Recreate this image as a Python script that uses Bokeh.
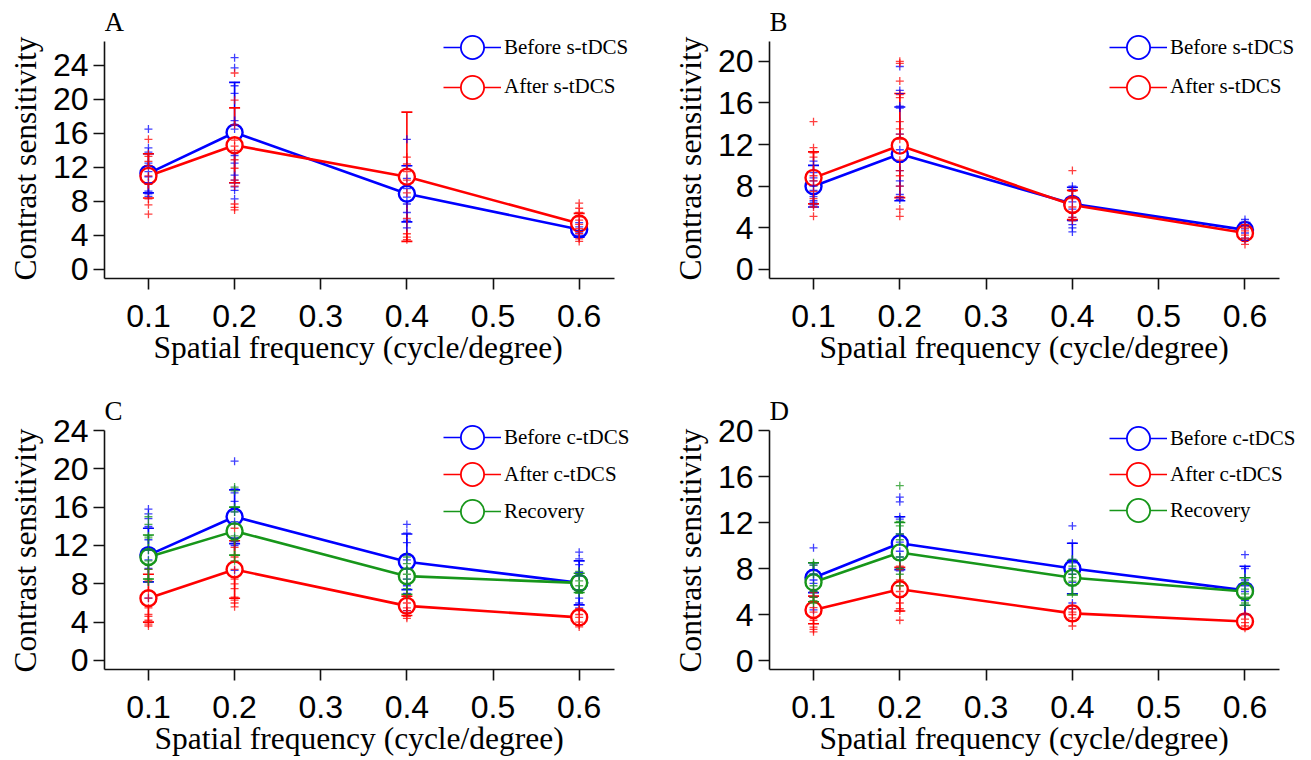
from bokeh.plotting import figure
from bokeh.layouts import column, row
from bokeh.models import (ColumnDataSource, Whisker, TeeHead, Legend, LegendItem,
                          Label, Range1d, FixedTicker, Title)
from bokeh.embed import file_html
from bokeh.resources import INLINE

NAN = float("nan")

# ---------------- data ----------------
freq = [0.1, 0.2, 0.4, 0.6]
x_ticks = [0.1, 0.2, 0.3, 0.4, 0.5, 0.6]

# Panel A (s-tDCS)
A_before_mean = [11.3, 16.1, 8.9, 4.7]
A_before_sd = [2.3, 5.9, 3.3, 0.9]
A_after_mean = [11.0, 14.6, 10.9, 5.4]
A_after_sd = [2.6, 4.4, 7.6, 1.2]
A_before_pts = [[16.5, 14.3, 13.8, 12.5, 11.5, 10.9, 10.2, 9.2, 8.9, 8.6],
                [24.9, 23.7, 21.6, 20.7, 17.5, 16.5, 13.4, 12.5, 11.1, 10.5, 9.7, 9.3, 8.3],
                [15.3, 12.2, 10.7, 9.5, 8.5, 7.7, 6.7, 5.8, 4.9],
                [5.5, 5.0, 4.6, 4.3, 4.0, 3.8]]
A_after_pts = [[15.3, 13.6, 13.3, 12.7, 12.2, 11.0, 10.0, 8.3, 7.6, 6.5],
               [23.1, 19.9, 17.0, 15.2, 14.5, 14.0, 12.9, 11.9, 10.5, 9.8, 7.7, 7.3, 7.0],
               [13.2, 12.4, 11.5, 10.5, 9.0, 6.0, 4.2, 3.8, 3.5],
               [7.8, 7.2, 6.7, 6.2, 5.8, 5.3, 4.8, 4.2, 3.6, 3.3]]
A_yticks = [0, 4, 8, 12, 16, 20, 24]

# Panel B (s-tDCS)
B_before_mean = [8.0, 11.1, 6.3, 3.8]
B_before_sd = [2.0, 4.5, 1.6, 0.7]
B_after_mean = [8.8, 11.9, 6.2, 3.5]
B_after_sd = [2.5, 5.0, 1.4, 0.6]
B_before_pts = [[10.4, 9.3, 8.8, 8.5, 8.0, 7.6, 7.0, 6.6, 6.4, 6.2],
                [19.5, 17.2, 16.9, 15.7, 15.5, 13.0, 11.5, 9.5, 8.5, 8.0, 7.2, 6.9, 6.7],
                [8.0, 7.7, 7.0, 6.5, 5.8, 5.0, 4.7, 4.3, 4.0, 3.6],
                [4.8, 4.5, 4.2, 3.9, 3.5, 3.0, 2.8]]
B_after_pts = [[14.2, 11.7, 11.2, 10.8, 9.5, 9.0, 8.5, 7.5, 6.8, 6.3, 6.0, 5.1],
               [20.0, 19.8, 18.1, 16.8, 16.5, 14.2, 13.5, 13.0, 12.5, 10.5, 9.5, 9.0, 8.0, 7.0, 5.8, 5.1],
               [9.5, 7.5, 7.0, 6.8, 6.0, 5.5, 5.0, 4.7],
               [4.3, 4.0, 3.7, 3.3, 3.0, 2.4]]
B_yticks = [0, 4, 8, 12, 16, 20]

# Panel C (c-tDCS)
C_before_mean = [11.0, 15.0, 10.3, 8.1]
C_before_sd = [2.8, 2.8, 2.9, 2.3]
C_after_mean = [6.5, 9.5, 5.7, 4.5]
C_after_sd = [2.5, 3.0, 1.0, 0.7]
C_recovery_mean = [10.8, 13.5, 8.8, 8.1]
C_recovery_sd = [2.3, 2.5, 1.9, 1.0]
C_before_pts = [[15.8, 15.3, 14.8, 14.0, 13.8, 12.6, 11.5, 10.5, 9.6, 8.2, 6.5],
                [20.8, 17.9, 17.5, 16.6, 15.5, 14.5, 12.8, 12.4, 12.0, 9.4],
                [14.2, 13.3, 12.3, 11.0, 10.5, 9.5, 8.5, 7.8, 7.0, 5.2],
                [11.3, 10.6, 10.0, 9.2, 8.8, 7.4, 6.5, 6.0, 5.5]]
C_after_pts = [[9.5, 8.3, 7.3, 6.5, 5.5, 4.8, 4.6, 4.2, 3.8, 3.6],
               [13.8, 12.5, 11.8, 10.8, 9.5, 8.5, 8.0, 7.5, 6.6, 6.3, 6.0, 5.6],
               [6.8, 6.5, 6.0, 5.5, 5.2, 5.0, 4.6, 4.4],
               [5.4, 5.2, 4.8, 4.5, 4.0, 3.7, 3.5]]
C_recovery_pts = [[15.0, 14.2, 13.0, 12.8, 11.5, 10.4, 10.0, 9.5, 8.5, 8.2],
                  [18.1, 17.7, 16.0, 15.5, 14.2, 13.0, 12.5, 11.0, 10.4],
                  [10.8, 10.1, 9.5, 9.0, 8.5, 8.0, 7.5, 6.9],
                  [9.3, 8.8, 8.3, 7.8, 7.4, 7.0]]
C_yticks = [0, 4, 8, 12, 16, 20, 24]

# Panel D (c-tDCS)
D_before_mean = [7.2, 10.2, 8.0, 6.1]
D_before_sd = [1.3, 2.3, 2.2, 2.1]
D_after_mean = [4.4, 6.2, 4.1, 3.4]
D_after_sd = [1.2, 1.9, 0.6, 0.5]
D_recovery_mean = [6.8, 9.4, 7.2, 6.0]
D_recovery_sd = [1.7, 2.6, 1.5, 1.2]
D_before_pts = [[9.8, 8.3, 7.9, 7.5, 7.0, 6.7, 6.0, 5.5, 4.4],
                [14.2, 13.8, 12.5, 12.3, 11.0, 10.3, 9.5, 9.0, 8.0, 7.8],
                [11.7, 10.2, 8.8, 8.5, 8.0, 7.5, 6.8, 5.0, 4.5],
                [9.2, 8.0, 7.0, 6.5, 6.0, 5.2, 4.8, 4.0]]
D_after_pts = [[5.9, 5.5, 4.6, 4.2, 3.5, 3.2, 2.9, 2.7, 2.5],
               [8.2, 7.9, 7.0, 6.5, 6.0, 5.5, 5.0, 4.5, 4.3, 3.5],
               [4.8, 4.5, 4.2, 4.0, 3.7, 3.4, 3.0],
               [4.0, 3.6, 3.3, 3.0, 2.8]]
D_recovery_pts = [[8.5, 8.3, 7.5, 6.5, 6.0, 5.5, 5.2, 5.0],
                  [15.2, 12.1, 11.7, 11.0, 10.5, 9.0, 8.0, 7.5, 6.5],
                  [8.8, 8.2, 7.5, 7.2, 6.9, 6.5, 5.8],
                  [7.2, 6.8, 6.2, 5.8, 5.5, 5.0, 4.8]]
D_yticks = [0, 4, 8, 12, 16, 20]

X_LABEL = "Spatial frequency (cycle/degree)"
Y_LABEL = "Contrast sensitivity"

# axis extents (data units) of each panel
A_xb, A_yb = (0.049, 0.641), (-1.06, 26.8)
B_xb, B_yb = (0.049, 0.640), (-0.87, 21.9)
C_xb, C_yb = (0.049, 0.641), (-0.94, 24.0)
D_xb, D_yb = (0.049, 0.640), (-0.78, 20.0)

# ---------------- style / geometry ----------------
BLUE = "#0000ff"
RED = "#ff0000"
GREEN = "#17961a"
SERIF = "Liberation Serif"
SANS = "Liberation Sans"
GW, GH = 58, 60


def make_panel(letter, series, xb, yb, yticks, fig_w, fig_h, ax_left, ax_right,
               frame_right, ax_top, ax_bottom, frame_top, fig_top, fig_left,
               leg_rows, xlab_offset, ylab_offset):
    # pixel geometry (page coords) -> data ranges that extend beyond the axes
    xs_per_px = (xb[1] - xb[0]) / (ax_right - ax_left)
    ys_per_px = (yb[1] - yb[0]) / (ax_bottom - ax_top)
    x_end = xb[0] + (frame_right - ax_left) * xs_per_px
    y_end = yb[0] + (ax_bottom - frame_top) * ys_per_px
    frame_w = frame_right - ax_left
    frame_h = ax_bottom - frame_top
    b_left = ax_left - fig_left
    b_top = frame_top - fig_top
    b_right = fig_w - b_left - frame_w
    b_bottom = fig_h - b_top - frame_h

    p = figure(width=fig_w, height=fig_h, output_backend="svg", toolbar_location=None,
               x_range=Range1d(xb[0], x_end), y_range=Range1d(yb[0], y_end),
               min_border_left=b_left, min_border_right=b_right,
               min_border_top=b_top, min_border_bottom=b_bottom)
    p.outline_line_color = None
    p.xgrid.visible = False
    p.ygrid.visible = False
    p.background_fill_color = "white"
    p.border_fill_color = "white"

    for ax in (p.xaxis[0], p.yaxis[0]):
        ax.axis_line_width = 1.6
        ax.axis_line_color = "#111111"
        ax.major_tick_line_width = 1.6
        ax.major_tick_line_color = "#111111"
        ax.major_tick_out = 11
        ax.major_tick_in = 0
        ax.minor_tick_line_color = None
        ax.major_label_text_font = SANS
        ax.major_label_text_font_size = "32px"
        ax.major_label_text_color = "black"
    p.xaxis.bounds = xb
    p.yaxis.bounds = yb
    p.xaxis.ticker = FixedTicker(ticks=x_ticks)
    p.yaxis.ticker = FixedTicker(ticks=yticks)
    p.xaxis.major_label_standoff = 15
    p.yaxis.major_label_standoff = 5

    # axis titles positioned along the drawn axis extent (not the whole frame)
    p.add_layout(Title(text=X_LABEL, align="left", offset=xlab_offset,
                       vertical_align="top", standoff=0, text_font=SERIF,
                       text_font_size="31.5px", text_font_style="normal",
                       text_color="black"), "below")
    p.add_layout(Title(text=Y_LABEL, align="left", offset=ylab_offset,
                       vertical_align="middle", standoff=12, text_font=SERIF,
                       text_font_size="31.5px", text_font_style="normal",
                       text_color="black"), "left")

    # mean lines and circles
    for label, color, mean, sd, pts in series:
        src = ColumnDataSource(dict(x=freq, y=mean))
        p.line("x", "y", source=src, line_color=color, line_width=2.6)
        p.scatter("x", "y", source=src, marker="circle", size=16, line_color=color,
                  line_width=2.4, fill_color="white")
    # error bars and individual points on top
    for label, color, mean, sd, pts in series:
        src = ColumnDataSource(dict(x=freq,
                                    upper=[m + s for m, s in zip(mean, sd)],
                                    lower=[m - s for m, s in zip(mean, sd)]))
        p.add_layout(Whisker(base="x", upper="upper", lower="lower", source=src,
                             line_color=color, line_width=1.6,
                             upper_head=TeeHead(size=11, line_color=color, line_width=1.6),
                             lower_head=TeeHead(size=11, line_color=color, line_width=1.6)))
        xs, ys = [], []
        for f, vals in zip(freq, pts):
            xs.extend([f] * len(vals))
            ys.extend(vals)
        p.scatter(xs, ys, marker="cross", size=8, line_color=color, line_alpha=0.75,
                  line_width=1.3)

    # one single-item legend per entry (legend-only renderers hold no visible data)
    for (label, color, mean, sd, pts), cy in zip(series, leg_rows):
        lr = p.line(x=[NAN], y=[NAN], line_color=color, line_width=1.6)
        cr = p.scatter(x=[NAN], y=[NAN], marker="circle", size=10, line_color=color,
                       line_width=1.8, fill_color="white")
        leg = Legend(items=[LegendItem(label=label, renderers=[lr, cr])],
                     location=(443 - 104 if ax_left < 600 else 1109 - 769,
                               ax_bottom - cy - GH / 2),
                     glyph_width=GW, glyph_height=GH, spacing=0, label_standoff=3,
                     padding=0, margin=0, background_fill_alpha=0, border_line_alpha=0,
                     label_text_font=SERIF, label_text_font_size="21px",
                     label_text_color="black")
        p.add_layout(leg)

    # panel letter (inside the frame, above the axis)
    p.add_layout(Label(x=xb[0], y=yb[0] + (ax_bottom - (ax_top - 19.5)) * ys_per_px,
                       text=letter, text_font=SERIF, text_font_size="27px",
                       text_align="left", text_baseline="alphabetic", text_color="black"))
    return p


ROW1_H, ROW2_H = 378, 381
A_W, B_W = 656, 654

pA = make_panel("A", [("Before s-tDCS", BLUE, A_before_mean, A_before_sd, A_before_pts),
                      ("After s-tDCS", RED, A_after_mean, A_after_sd, A_after_pts)],
                A_xb, A_yb, A_yticks, A_W, ROW1_H, 104, 614, 640, 41, 278, 8, 0, 0,
                [47, 86.5], 49, -2)
pB = make_panel("B", [("Before s-tDCS", BLUE, B_before_mean, B_before_sd, B_before_pts),
                      ("After s-tDCS", RED, B_after_mean, B_after_sd, B_after_pts)],
                B_xb, B_yb, B_yticks, B_W, ROW1_H, 769, 1279, 1300, 41, 278, 8, 0, A_W,
                [47, 86.5], 50, -2)
pC = make_panel("C", [("Before c-tDCS", BLUE, C_before_mean, C_before_sd, C_before_pts),
                      ("After c-tDCS", RED, C_after_mean, C_after_sd, C_after_pts),
                      ("Recovery", GREEN, C_recovery_mean, C_recovery_sd, C_recovery_pts)],
                C_xb, C_yb, C_yticks, A_W, ROW2_H, 104, 614, 640, 430, 669, 394, ROW1_H, 0,
                [437, 474, 511], 50, -3)
pD = make_panel("D", [("Before c-tDCS", BLUE, D_before_mean, D_before_sd, D_before_pts),
                      ("After c-tDCS", RED, D_after_mean, D_after_sd, D_after_pts),
                      ("Recovery", GREEN, D_recovery_mean, D_recovery_sd, D_recovery_pts)],
                D_xb, D_yb, D_yticks, B_W, ROW2_H, 769, 1279, 1300, 430, 669, 394, ROW1_H, A_W,
                [438, 474, 510], 50, -3)

layout = column(row(pA, pB), row(pC, pD))
open("out.html", "w").write(file_html(layout, INLINE))
